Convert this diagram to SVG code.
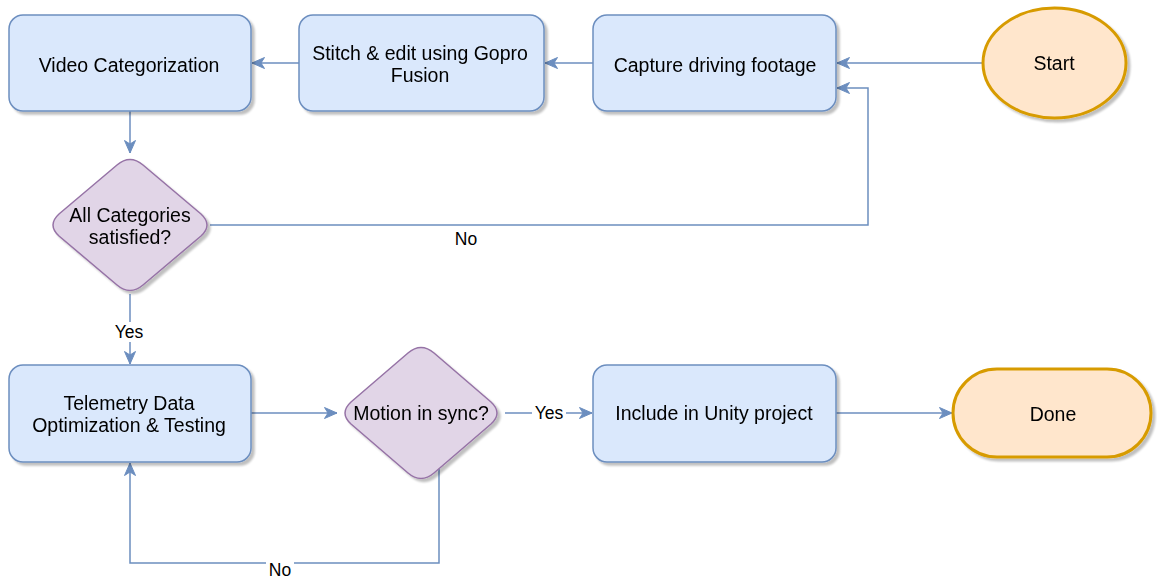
<svg xmlns="http://www.w3.org/2000/svg" width="1157" height="580" viewBox="0 0 1157 580">
  <style>
    .box { fill: #dae8fc; stroke: #6c8ebf; stroke-width: 1.5; }
    .dec { fill: #e1d5e7; stroke: #9673a6; stroke-width: 1.5; }
    .term { fill: #ffe6cc; stroke: #d79b00; stroke-width: 3; }
    .edge { fill: none; stroke: #6c8ebf; stroke-width: 1.5; }
    .t { font-family: "Liberation Sans", Arial, Helvetica, sans-serif; font-size: 19.5px; fill: #000; text-anchor: middle; }
    .lbl { font-family: "Liberation Sans", Arial, Helvetica, sans-serif; font-size: 17.5px; fill: #000; text-anchor: middle; }
    .bg { fill: #fff; }
  </style>
  <defs>
    <filter id="shadow" x="-10%" y="-10%" width="130%" height="130%">
      <feGaussianBlur in="SourceAlpha" stdDeviation="1"/>
      <feOffset dx="3" dy="3" result="off"/>
      <feComponentTransfer in="off" result="sh">
        <feFuncA type="linear" slope="0.25"/>
      </feComponentTransfer>
      <feMerge>
        <feMergeNode in="sh"/>
        <feMergeNode in="SourceGraphic"/>
      </feMerge>
    </filter>
    <marker id="arrow" markerUnits="userSpaceOnUse" markerWidth="14" markerHeight="12" viewBox="0 0 14 12" refX="13" refY="6" orient="auto">
      <path d="M0.5,0.5 L13,6 L0.5,11.5 L4,6 Z" fill="#6c8ebf" stroke="#6c8ebf" stroke-width="1"/>
    </marker>
  </defs>

  <!-- connectors -->
  <g id="connectors">
    <path class="edge" d="M299,63 L252,63" marker-end="url(#arrow)"/>
    <path class="edge" d="M593,63 L545,63" marker-end="url(#arrow)"/>
    <path class="edge" d="M983,63 L837,63" marker-end="url(#arrow)"/>
    <path class="edge" d="M130,111 L130,153" marker-end="url(#arrow)"/>
    <path class="edge" d="M210,225 L868,225 L868,88 L837,88" marker-end="url(#arrow)"/>
    <path class="edge" d="M130,294 L130,364" marker-end="url(#arrow)"/>
    <path class="edge" d="M251,413 L337,413" marker-end="url(#arrow)"/>
    <path class="edge" d="M505,413 L592,413" marker-end="url(#arrow)"/>
    <path class="edge" d="M836,413 L952,413" marker-end="url(#arrow)"/>
    <path class="edge" d="M439,466 L439,563 L130,563 L130,463" marker-end="url(#arrow)"/>

    <text class="lbl" x="466" y="245">No</text>
    <rect class="bg" x="112" y="322" width="36" height="20"/>
    <text class="lbl" x="129" y="338">Yes</text>
    <rect class="bg" x="532" y="403" width="34" height="20"/>
    <text class="lbl" x="549" y="419">Yes</text>
    <rect class="bg" x="266" y="556" width="28" height="22"/>
    <text class="lbl" x="280" y="576">No</text>
  </g>

  <g id="video-categorization" filter="url(#shadow)">
    <rect class="box" x="9" y="15" width="242" height="96" rx="14"/>
    <text class="t" x="129" y="72">Video Categorization</text>
  </g>

  <g id="stitch-edit" filter="url(#shadow)">
    <rect class="box" x="299" y="15" width="245" height="96" rx="14"/>
    <text class="t" x="420" y="60">Stitch &amp; edit using Gopro</text>
    <text class="t" x="420" y="82">Fusion</text>
  </g>

  <g id="capture-footage" filter="url(#shadow)">
    <rect class="box" x="593" y="15" width="243" height="96" rx="14"/>
    <text class="t" x="715" y="72">Capture driving footage</text>
  </g>

  <g id="start" filter="url(#shadow)">
    <ellipse class="term" cx="1054.5" cy="63" rx="71.5" ry="55"/>
    <text class="t" x="1054" y="70">Start</text>
  </g>

  <g id="all-categories" filter="url(#shadow)">
    <path class="dec" d="M117,165 Q130,154 143,165 L201,214 Q213,225 201,236 L143,285 Q130,296 117,285 L59,236 Q47,225 59,214 Z"/>
    <text class="t" x="130" y="222">All Categories</text>
    <text class="t" x="130" y="244">satisfied?</text>
  </g>

  <g id="telemetry" filter="url(#shadow)">
    <rect class="box" x="9" y="365" width="242" height="97" rx="14"/>
    <text class="t" x="129" y="410">Telemetry Data</text>
    <text class="t" x="129" y="432">Optimization &amp; Testing</text>
  </g>

  <g id="motion-sync" filter="url(#shadow)">
    <path class="dec" d="M408,353 Q421,342 434,353 L491,402 Q503,413 491,424 L434,473 Q421,484 408,473 L351,424 Q339,413 351,402 Z"/>
    <text class="t" x="421" y="420">Motion in sync?</text>
  </g>

  <g id="include-unity" filter="url(#shadow)">
    <rect class="box" x="593" y="365" width="243" height="97" rx="14"/>
    <text class="t" x="714" y="420">Include in Unity project</text>
  </g>

  <g id="done" filter="url(#shadow)">
    <rect class="term" x="953" y="369" width="198" height="88" rx="44"/>
    <text class="t" x="1053" y="421">Done</text>
  </g>
</svg>
